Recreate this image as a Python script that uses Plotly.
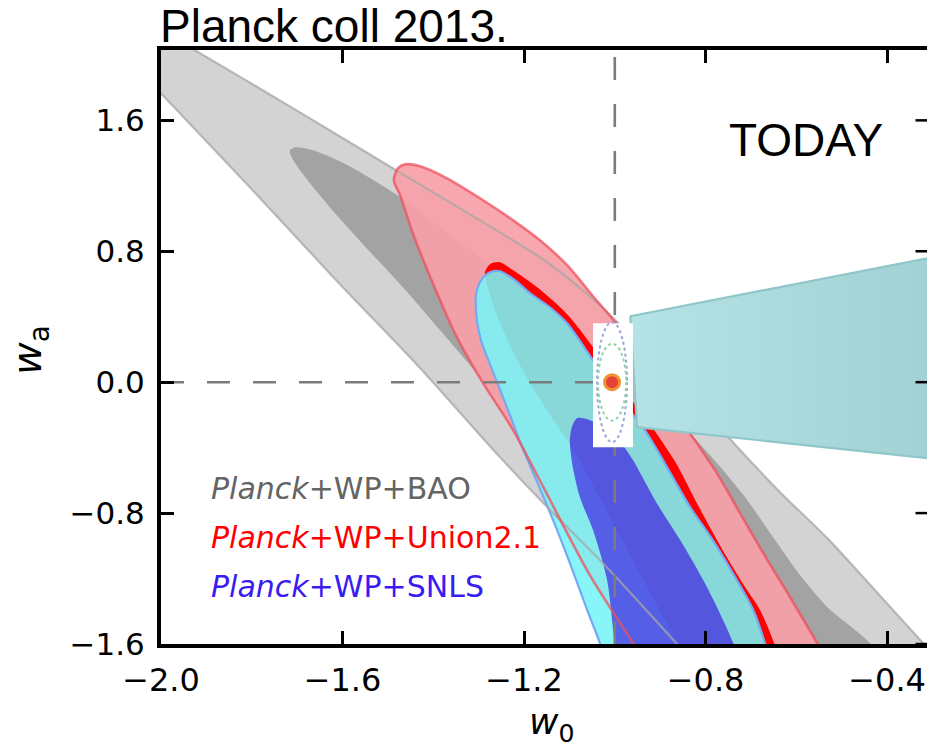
import plotly.graph_objects as go

# ---------------- data ----------------
# Planck+WP+BAO, 95% region
bao95_w0 = [-2.024, -1.925, -1.694, -1.482, -1.297, -1.149, -1.033, -0.922, -0.812, -0.724, -0.636,
            -0.532, -0.431, -0.321, -0.261, -0.812, -0.863, -1.033, -1.149, -1.253, -1.385, -1.445,
            -1.614, -1.804, -1.996, -2.088, -2.134]
bao95_wa = [2.186, 2.028, 1.649, 1.295, 0.989, 0.733, 0.470, 0.165, -0.141, -0.415, -0.672,
            -0.953, -1.258, -1.594, -1.777, -1.759, -1.600, -1.087, -0.763, -0.458, -0.049, 0.134,
            0.623, 1.191, 1.753, 2.028, 2.168]
# Planck+WP+BAO, 68% region
bao68_w0 = [-1.716, -1.703, -1.665, -1.592, -1.482, -1.385, -1.275, -1.165, -1.033, -0.900, -0.790,
            -0.713, -0.647, -0.592, -0.532, -0.438, -0.382, -0.680, -0.784, -0.944, -1.121, -1.253,
            -1.334, -1.467, -1.555, -1.628, -1.687, -1.714]
bao68_wa = [1.417, 1.435, 1.417, 1.331, 1.148, 0.945, 0.715, 0.501, 0.208, -0.122, -0.446,
            -0.702, -0.965, -1.179, -1.374, -1.594, -1.820, -1.820, -1.600, -1.087, -0.525, -0.110,
            0.153, 0.580, 0.843, 1.069, 1.270, 1.386]
# Planck+WP+Union2.1, 95% region
union95_w0 = [-1.487, -1.478, -1.462, -1.429, -1.370, -1.297, -1.224, -1.165, -1.105, -1.048, -0.999,
              -0.944, -0.889, -0.830, -0.775, -0.724, -0.673, -0.614, -0.554, -0.508, -0.911, -0.960,
              -1.055, -1.154, -1.224, -1.293, -1.348, -1.401, -1.445, -1.473]
union95_wa = [1.234, 1.307, 1.331, 1.319, 1.246, 1.124, 0.989, 0.867, 0.715, 0.525, 0.366,
              0.147, -0.098, -0.330, -0.556, -0.800, -1.044, -1.313, -1.594, -1.820, -1.820, -1.594,
              -1.179, -0.660, -0.293, 0.006, 0.275, 0.605, 0.910, 1.142]
# Planck+WP+Union2.1, 68% region
union68_w0 = [-1.286, -1.275, -1.253, -1.224, -1.171, -1.105, -1.048, -0.988, -0.916, -0.865, -0.817,
              -0.766, -0.713, -0.680, -0.649, -0.625, -0.834, -0.863, -0.911, -0.960, -1.033, -1.092,
              -1.138, -1.187, -1.231, -1.264, -1.284]
union68_wa = [0.672, 0.721, 0.733, 0.684, 0.580, 0.415, 0.214, -0.018, -0.281, -0.495, -0.751,
              -1.008, -1.252, -1.392, -1.594, -1.820, -1.820, -1.594, -1.344, -1.087, -0.708, -0.409,
              -0.220, -0.006, 0.226, 0.440, 0.623]
# Planck+WP+SNLS, 95% region
snls95_w0 = [-1.290, -1.275, -1.253, -1.220, -1.187, -1.143, -1.105, -1.048, -0.988, -0.929, -0.885,
             -0.834, -0.784, -0.731, -0.695, -0.669, -0.647, -1.011, -1.033, -1.061, -1.099, -1.136,
             -1.171, -1.204, -1.231, -1.257, -1.277, -1.295, -1.306, -1.304]
snls95_wa = [0.641, 0.672, 0.678, 0.623, 0.544, 0.458, 0.360, 0.134, -0.098, -0.312, -0.519,
             -0.763, -0.965, -1.209, -1.392, -1.594, -1.820, -1.820, -1.594, -1.392, -1.105, -0.843,
             -0.611, -0.397, -0.202, -0.018, 0.122, 0.257, 0.440, 0.562]
# Planck+WP+SNLS, 68% region
snls68_w0 = [-1.083, -1.055, -1.022, -0.988, -0.960, -0.933, -0.905, -0.856, -0.797, -0.739, -0.713,
             -0.977, -0.999, -1.017, -1.048, -1.077, -1.094, -1.099, -1.094]
snls68_wa = [-0.220, -0.232, -0.281, -0.366, -0.476, -0.611, -0.751, -0.965, -1.252, -1.594, -1.820,
             -1.820, -1.594, -1.209, -0.904, -0.702, -0.495, -0.354, -0.269]
# "TODAY" zoom cone
cone_w0 = [-0.966, -0.951, -0.239, -0.239]
cone_wa = [0.403, -0.275, -0.486, 0.796]
# inset box and forecast ellipses around the fiducial point
inset_w0 = [-1.048, -0.960, -0.960, -1.048]
inset_wa = [0.360, 0.360, -0.397, -0.397]
fid_w0, fid_wa = -1.0, 0.0
dot_w0 = -1.006
ell_outer = (0.033, 0.366)   # semi-axes (w0, wa)
ell_inner = (0.031, 0.235)

x_ticks = [-2.0, -1.6, -1.2, -0.8, -0.4]
x_ticktext = ["\u22122.0", "\u22121.6", "\u22121.2", "\u22120.8", "\u22120.4"]
y_ticks = [-1.6, -0.8, 0.0, 0.8, 1.6]
y_ticktext = ["\u22121.6", "\u22120.8", "0.0", "0.8", "1.6"]
x_range = [-2.0, -0.312]
y_range = [-1.6, 2.03]

legend_labels = ["<i>Planck</i>+WP+BAO", "<i>Planck</i>+WP+Union2.1", "<i>Planck</i>+WP+SNLS"]
legend_colors = ["#646464", "#ff0000", "#3a1cf2"]

# ---------------- figure ----------------
fig = go.Figure()

def closed(v):
    return v + v[:1]

def poly(x, y, fill, line_color=None, line_width=0):
    fig.add_trace(go.Scatter(
        x=closed(x), y=closed(y), mode="lines", fill="toself", fillcolor=fill,
        line=dict(color=line_color or "rgba(0,0,0,0)", width=line_width,
                  shape="spline", smoothing=0.8),
        hoverinfo="skip", showlegend=False))

poly(bao95_w0, bao95_wa, "#d3d3d3")
poly(bao68_w0, bao68_wa, "#a3a3a3")
poly(union95_w0, union95_wa, "rgba(248,159,167,0.92)")
poly(union68_w0, union68_wa, "#ff0000")
poly(snls95_w0, snls95_wa, "rgba(120,245,247,0.88)", "#74aaf4", 2.2)
poly(snls68_w0, snls68_wa, "rgba(51,0,225,0.6)")

# contour edges seen on top
fig.add_trace(go.Scatter(x=closed(bao95_w0), y=closed(bao95_wa), mode="lines",
                         line=dict(color="rgba(165,165,165,0.75)", width=2.2,
                                   shape="spline", smoothing=0.8),
                         hoverinfo="skip", showlegend=False))
fig.add_trace(go.Scatter(x=closed(union95_w0), y=closed(union95_wa), mode="lines",
                         line=dict(color="rgba(238,80,92,0.75)", width=2.6,
                                   shape="spline", smoothing=0.8),
                         hoverinfo="skip", showlegend=False))

# dashed reference lines
fig.add_trace(go.Scatter(x=[fid_w0, fid_w0], y=y_range, mode="lines",
                         line=dict(color="#7c7c7c", width=2.6, dash="23px,24px"),
                         hoverinfo="skip", showlegend=False))
fig.add_trace(go.Scatter(x=[x_range[0], fid_w0], y=[fid_wa, fid_wa], mode="lines",
                         line=dict(color="#7c7c7c", width=2.6, dash="23px,23px"),
                         hoverinfo="skip", showlegend=False))

# cone
fig.add_trace(go.Scatter(x=closed(cone_w0), y=closed(cone_wa), mode="lines",
                         fill="toself",
                         fillgradient=dict(type="horizontal",
                                           colorscale=[[0, "#b5e2e5"], [1, "#a0d0d3"]]),
                         line=dict(color="#8ec6c9", width=2.2),
                         hoverinfo="skip", showlegend=False))
# inset box
fig.add_trace(go.Scatter(x=closed(inset_w0), y=closed(inset_wa), mode="lines",
                         fill="toself", fillcolor="white", line=dict(color="white", width=0),
                         hoverinfo="skip", showlegend=False))
fig.add_trace(go.Scatter(x=[dot_w0], y=[fid_wa], mode="markers",
                         marker=dict(size=15, color="#e8403a", line=dict(color="#f0922e", width=3)),
                         hoverinfo="skip", showlegend=False))

shapes = []
for (a, b), col in [(ell_outer, "#9aa5dc"), (ell_inner, "#8fd3a2")]:
    shapes.append(dict(type="circle", xref="x", yref="y", x0=dot_w0 - a, x1=dot_w0 + a,
                       y0=fid_wa - b, y1=fid_wa + b, line=dict(color=col, width=2, dash="dot"),
                       layer="above"))
# ticks on the right-hand side
for t in y_ticks:
    shapes.append(dict(type="line", xref="paper", yref="y", x0=0.985, x1=1.0, y0=t, y1=t,
                       line=dict(color="black", width=2.5), layer="above"))

annotations = [
    dict(text="Planck coll 2013.", xref="paper", yref="paper", x=-0.004, y=1.040,
         xanchor="left", yanchor="middle", showarrow=False,
         font=dict(family="Liberation Sans", size=46, color="black")),
    dict(text="TODAY", xref="paper", yref="paper", x=0.739, y=0.8485,
         xanchor="left", yanchor="middle", showarrow=False,
         font=dict(family="Liberation Sans", size=46, color="black")),
    dict(text="<i>w</i><sub>0</sub>", xref="paper", yref="paper", x=0.5104, y=-0.136,
         xanchor="center", yanchor="middle", showarrow=False,
         font=dict(family="DejaVu Sans", size=36, color="black")),
    dict(text="<i>w</i><sub>a</sub>", xref="paper", yref="paper", x=-0.171, y=0.495,
         xanchor="center", yanchor="middle", showarrow=False, textangle=-90,
         font=dict(family="DejaVu Sans", size=40, color="black")),
]
for i, (lab, col) in enumerate(zip(legend_labels, legend_colors)):
    annotations.append(dict(text=lab, xref="paper", yref="paper", x=0.063, y=0.2626 - i * 0.0825,
                            xanchor="left", yanchor="middle", showarrow=False,
                            font=dict(family="DejaVu Sans", size=30, color=col)))

fig.update_layout(
    width=927, height=750,
    margin=dict(l=161, r=0, t=50, b=106),
    paper_bgcolor="white", plot_bgcolor="white",
    showlegend=False, hovermode=False,
    shapes=shapes, annotations=annotations,
    xaxis=dict(range=x_range, tickvals=x_ticks, ticktext=x_ticktext, ticks="inside",
               ticklen=13, tickwidth=2.5, tickcolor="black", showline=True, linewidth=4,
               linecolor="black", mirror="ticks", showgrid=False, zeroline=False,
               ticklabeloverflow="allow",
               tickfont=dict(family="DejaVu Sans", size=32, color="black"), ticklabelstandoff=5),
    yaxis=dict(range=y_range, tickvals=y_ticks, ticktext=y_ticktext, ticks="inside",
               ticklen=13, tickwidth=2.5, tickcolor="black", showline=True, linewidth=4,
               linecolor="black", mirror=False, showgrid=False, zeroline=False,
               tickfont=dict(family="DejaVu Sans", size=31, color="black"), ticklabelstandoff=6),
)

fig.write_html("out.html")
